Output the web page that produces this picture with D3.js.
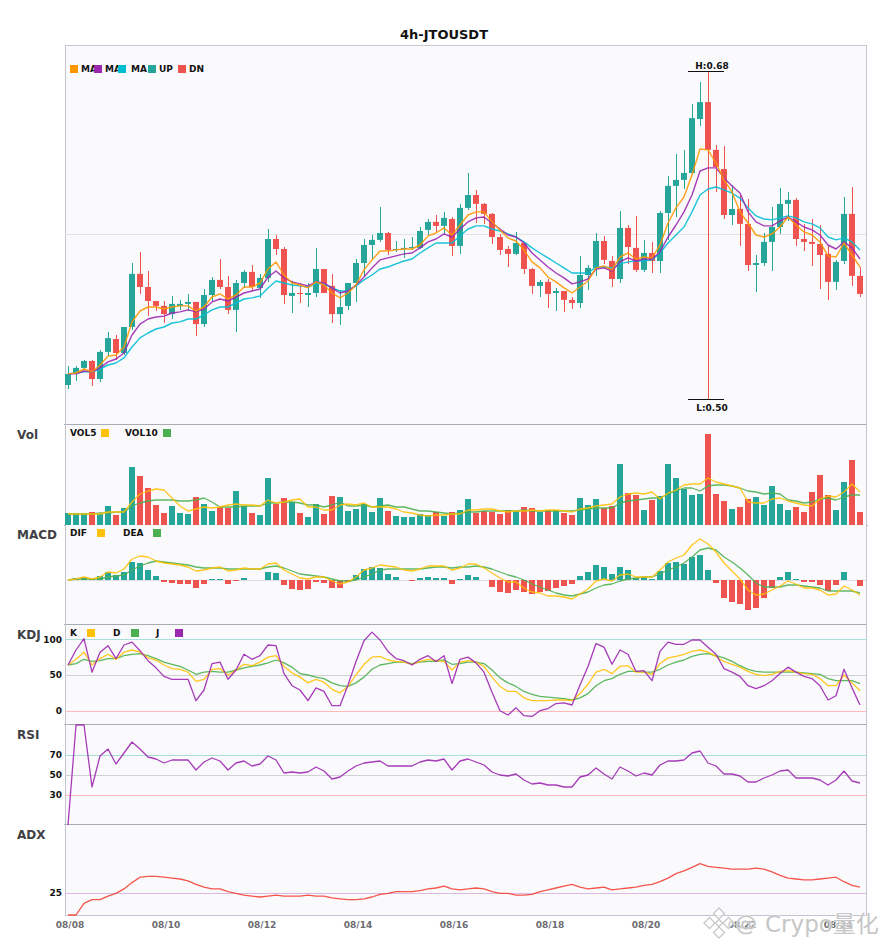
<!DOCTYPE html>
<html>
<head>
<meta charset="utf-8">
<script src="https://cdn.jsdelivr.net/npm/d3@7"></script>
<style>
  html, body { margin: 0; padding: 0; background: #fff; }
  svg { display: block; font-family: "DejaVu Sans", sans-serif; }
</style>
</head>
<body>
<div id="chart"></div>
<script>
const title = '4h-JTOUSDT'
const tickLabels = ['08/08', '08/10', '08/12', '08/14', '08/16', '08/18', '08/20', '08/22', '08/24']
const tickIndex = [0, 12, 24, 36, 48, 60, 72, 84, 96]

const open = [.5077,.5138,.5171,.5209,.5110,.5259,.5330,.5253,.5396,.5688,.5616,.5539,.5512,.5467,.5512,.5523,.5534,.5412,.5572,.5655,
  .5616,.5490,.5638,.5699,.5611,.5666,.5880,.5825,.5567,.5583,.5572,.5583,.5715,.5622,.5467,.5512,.5638,.5748,.5847,.5875,
  .5913,.5820,.5825,.5831,.5831,.5930,.5974,.5952,.5990,.5842,.6051,.6122,.6073,.6018,.5891,.5825,.5798,.5858,.5715,.5622,
  .5644,.5583,.5594,.5545,.5528,.5682,.5721,.5869,.5759,.5660,.5941,.5831,.5710,.5803,.5759,.6023,.6172,.6205,.6243,.6540,
  .6633,.6370,.6265,.6012,.6045,.5963,.5737,.5748,.5864,.5946,.6073,.6095,.5880,.5864,.5853,.5798,.5644,.5759,.6018,.5677]
const close = [.5138,.5171,.5209,.5110,.5259,.5335,.5253,.5396,.5688,.5616,.5539,.5512,.5467,.5523,.5523,.5534,.5412,.5572,.5655,.5616,
  .5490,.5638,.5699,.5616,.5666,.5880,.5825,.5572,.5583,.5578,.5583,.5715,.5583,.5467,.5506,.5638,.5748,.5847,.5875,.5913,
  .5820,.5825,.5831,.5836,.5924,.5974,.5952,.5996,.5842,.6051,.6122,.6073,.6018,.5891,.5820,.5798,.5858,.5715,.5622,.5644,
  .5578,.5594,.5545,.5528,.5682,.5721,.5869,.5765,.5660,.5941,.5836,.5710,.5803,.5759,.6023,.6172,.6205,.6243,.6545,.6633,
  .6370,.6276,.6012,.6045,.5963,.5737,.5748,.5864,.5946,.6073,.6095,.5880,.5864,.5853,.5792,.5644,.5754,.6018,.5677,.5578]
const high = [.5182,.5182,.5215,.5215,.5270,.5368,.5352,.5396,.5748,.5809,.5704,.5539,.5539,.5567,.5545,.5578,.5534,.5605,.5671,.5770,
  .5677,.5655,.5710,.5737,.5688,.5935,.5902,.5836,.5649,.5638,.5638,.5831,.5715,.5688,.5600,.5638,.5770,.5880,.5902,.6056,
  .5919,.5869,.5880,.5891,.5946,.5990,.6012,.6029,.6001,.6073,.6243,.6150,.6078,.6023,.5908,.5842,.5919,.5858,.5721,.5655,
  .5660,.5611,.5594,.5561,.5787,.5737,.5913,.5897,.5787,.6034,.5957,.6007,.5875,.5864,.6034,.6226,.6348,.6370,.6622,.6744,
  .6804,.6397,.6392,.6177,.6122,.6100,.5792,.5913,.6056,.6161,.6139,.6105,.5963,.5990,.5957,.5847,.5765,.6111,.6166,.5726]
const low = [.5055,.5099,.5160,.5072,.5094,.5236,.5215,.5242,.5380,.5578,.5456,.5484,.5418,.5440,.5490,.5484,.5346,.5396,.5534,.5605,
  .5467,.5368,.5611,.5594,.5556,.5644,.5792,.5523,.5473,.5528,.5506,.5561,.5583,.5418,.5407,.5490,.5534,.5677,.5770,.5864,
  .5792,.5809,.5776,.5820,.5825,.5902,.5919,.5908,.5787,.5798,.6040,.5968,.5963,.5853,.5792,.5726,.5792,.5688,.5578,.5561,
  .5501,.5484,.5479,.5495,.5501,.5600,.5677,.5743,.5616,.5638,.5743,.5699,.5699,.5693,.5693,.5875,.6001,.6155,.6232,.6502,
  .5000,.6139,.5990,.5957,.5842,.5704,.5589,.5732,.5704,.5908,.5979,.5842,.5814,.5732,.5605,.5545,.5600,.5743,.5622,.5561]

const ma5 = [.5138,.5143,.5165,.5149,.5187,.5236,.5242,.5286,.5424,.5484,.5506,.5506,.5495,.5506,.5512,.5512,.5484,.5506,.5561,.5578,
  .5550,.5572,.5616,.5616,.5638,.5715,.5754,.5682,.5638,.5627,.5611,.5644,.5627,.5583,.5556,.5583,.5627,.5710,.5765,.5814,
  .5814,.5820,.5825,.5825,.5847,.5897,.5913,.5941,.5902,.5957,.6012,.6029,.6029,.5974,.5930,.5886,.5869,.5820,.5754,.5721,
  .5671,.5644,.5611,.5583,.5616,.5649,.5721,.5732,.5710,.5781,.5803,.5770,.5781,.5776,.5847,.5968,.6051,.6111,.6232,.6375,
  .6370,.6298,.6205,.6139,.6029,.5968,.5902,.5891,.5908,.5946,.6001,.5957,.5919,.5902,.5864,.5787,.5781,.5858,.5792,.5726]
const ma10 = [.5138,.5138,.5154,.5149,.5171,.5204,.5220,.5253,.5352,.5412,.5440,.5451,.5456,.5473,.5479,.5490,.5479,.5495,.5534,.5550,
  .5539,.5561,.5583,.5594,.5605,.5671,.5704,.5666,.5644,.5633,.5622,.5644,.5638,.5611,.5583,.5594,.5627,.5671,.5721,.5765,
  .5776,.5787,.5798,.5803,.5831,.5864,.5880,.5908,.5891,.5935,.5974,.5996,.6001,.5968,.5935,.5902,.5891,.5858,.5803,.5765,
  .5726,.5693,.5666,.5633,.5644,.5660,.5715,.5721,.5704,.5754,.5776,.5759,.5770,.5770,.5809,.5891,.5957,.6029,.6122,.6254,
  .6271,.6271,.6216,.6172,.6133,.6029,.5974,.5952,.5952,.5979,.6001,.5974,.5946,.5930,.5902,.5847,.5825,.5864,.5831,.5770]
const ma20 = [.5138,.5143,.5149,.5149,.5165,.5187,.5198,.5226,.5286,.5336,.5363,.5385,.5396,.5418,.5424,.5440,.5440,.5462,.5490,.5506,
  .5506,.5528,.5550,.5556,.5567,.5611,.5649,.5638,.5627,.5622,.5616,.5633,.5633,.5611,.5594,.5594,.5622,.5655,.5682,.5715,
  .5726,.5743,.5759,.5770,.5803,.5831,.5858,.5858,.5858,.5897,.5935,.5952,.5952,.5935,.5924,.5908,.5891,.5864,.5831,.5803,
  .5776,.5748,.5721,.5693,.5693,.5693,.5726,.5726,.5721,.5743,.5754,.5759,.5759,.5765,.5803,.5858,.5902,.5946,.6029,.6122,
  .6155,.6166,.6150,.6133,.6105,.6051,.6007,.5990,.5985,.5996,.6007,.5996,.5974,.5963,.5941,.5891,.5875,.5886,.5864,.5820]

const vol = [12,12,12,13,11,19,10,17,58,49,37,20,12,19,12,11,28,21,14,18,17,34,19,12,10,47,21,27,23,12,8,21,11,29,28,14,16,21,13,27,
  14,9,8,8,11,10,13,9,13,15,26,12,14,13,11,15,14,18,17,13,15,15,12,10,27,20,26,17,19,61,32,30,15,25,29,61,47,36,30,31,
  91,31,24,16,18,26,28,20,39,21,15,18,13,33,50,30,15,43,65,13]
const vol5 = [11,11,11,11,11,13,13,13,23,31,34,36,35,27,19,14,16,18,17,18,20,21,20,20,19,25,22,23,25,26,18,18,15,15,20,21,20,22,18,18,
  18,16,13,12,10,9,10,10,11,11,15,15,16,16,14,13,14,14,15,14,15,15,14,13,16,17,19,20,21,28,31,32,31,33,26,32,35,40,41,41,
  47,43,41,39,37,23,22,22,26,27,24,22,20,19,26,29,28,33,41,33]
const vol10 = [11,11,11,11,12,12,13,13,19,22,24,25,25,25,24,24,25,27,23,18,18,18,19,19,19,22,22,23,23,22,20,20,18,20,23,19,19,20,18,19,
  20,18,18,16,14,14,13,12,11,12,13,13,14,14,14,14,14,15,14,14,14,14,14,14,15,16,17,17,17,22,24,25,26,27,27,31,34,37,37,34,
  39,40,40,39,37,34,33,31,32,31,25,24,22,23,26,27,25,28,30,30]

const macd = [0,2,3,1,4,8,5,8,18,17,10,4,-2,-3,-4,-4,-8,-4,1,1,-4,-1,2,0,0,8,7,-5,-9,-10,-9,-2,-3,-8,-8,-2,5,11,13,12,
  6,3,0,-1,2,3,2,2,-4,1,5,3,0,-7,-12,-13,-10,-12,-14,-12,-11,-8,-6,-4,4,8,15,13,6,13,10,2,3,1,9,17,18,16,23,25,
  10,-3,-18,-22,-24,-30,-28,-18,-8,3,8,1,-2,-2,-5,-11,-5,8,0,-6]
const dif = [0,1,3,1,3,8,7,11,21,24,23,19,17,16,15,13,9,10,12,13,9,10,12,11,11,16,17,10,6,2,1,3,3,-1,-4,-2,3,10,12,15,
  14,13,10,9,11,14,14,14,10,12,16,16,12,7,2,-2,-2,-8,-12,-13,-16,-16,-17,-19,-14,-9,-1,1,-1,5,6,3,3,3,10,18,22,25,35,41,
  36,28,17,9,1,-10,-15,-14,-10,-6,-1,-4,-8,-8,-10,-15,-14,-6,-10,-15]
const dea = [0,1,1,1,1,3,4,5,10,14,17,19,18,17,16,15,13,12,12,12,11,11,11,11,11,13,14,12,9,6,5,4,3,1,-1,-1,0,3,6,10,
  11,11,11,11,11,12,13,13,12,13,13,14,13,11,8,5,3,0,-4,-7,-10,-13,-15,-16,-14,-12,-8,-5,-4,-1,1,2,3,3,6,10,13,17,23,30,
  32,30,23,18,12,5,-3,-7,-7,-7,-5,-5,-6,-7,-8,-11,-11,-11,-11,-13]

const kLine = [64,72,82,64,73,79,72,82,85,82,74,71,64,59,58,54,41,44,58,59,50,57,65,63,68,75,77,62,53,47,39,44,40,30,25,34,50,65,75,76,
  71,69,68,65,69,72,70,69,57,68,70,68,62,47,34,27,27,18,14,14,14,15,15,14,24,37,54,58,52,62,63,54,54,51,66,74,76,79,83,85,
  82,76,69,65,61,55,51,49,51,55,56,54,52,51,45,35,35,50,39,28]
const dLine = [64,66,72,69,70,73,73,77,79,80,77,73,68,65,62,57,51,54,55,54,54,57,60,62,64,67,71,67,61,52,50,47,45,39,35,34,39,47,58,64,
  66,68,68,66,68,69,69,71,65,66,68,68,66,57,46,39,34,27,23,20,19,18,17,15,18,24,35,42,45,51,55,55,54,54,58,64,68,71,76,79,
  80,77,74,69,63,58,55,54,54,54,54,54,53,52,51,45,42,42,42,38]
const jLine = [64,85,101,54,82,91,73,92,96,84,70,60,48,44,44,44,14,29,66,68,44,57,79,72,77,92,91,52,35,29,14,32,27,7,7,36,69,98,110,99,
  83,73,70,64,72,77,69,77,38,72,75,67,54,26,0,-6,4,-7,-8,0,3,10,11,8,36,62,94,89,65,85,79,55,56,42,83,96,93,93,99,99,
  89,79,59,54,48,35,31,35,42,52,61,54,48,45,35,15,21,58,32,8]

const rsi = [0,100,100,38,69,76,61,72,83,76,68,66,62,65,65,65,55,63,67,64,55,62,64,59,61,69,65,52,53,52,53,58,54,46,48,54,59,62,63,64,
  59,59,59,59,63,65,64,66,55,64,66,63,60,53,50,49,51,45,41,42,40,40,38,38,48,50,57,51,46,58,54,49,52,50,60,64,64,65,72,74,
  62,59,51,51,49,43,43,47,50,54,55,47,47,47,45,40,45,54,44,42]
const adx = [0,0,13,17,17,21,24,29,36,42,43,43,42,41,40,38,34,31,29,29,26,24,22,21,20,21,22,21,21,21,22,21,21,19,18,17,17,18,20,23,
  24,26,26,26,27,29,30,32,29,28,29,30,29,26,24,24,22,22,23,26,28,30,32,34,31,29,30,31,28,29,30,31,33,34,37,41,46,49,53,57,
  54,53,52,51,51,51,52,51,48,44,41,40,39,39,40,41,42,37,33,31]

const upColor = '#26a69a'
const dnColor = '#ef5350'
const yellow = '#ffc107'
const green = '#4caf50'
const purple = '#9c27b0'
const left = 65
const right = 866
const w = 885
const h = 950

let index = d3.range(open.length)
let x = d3.scaleBand().domain(index).range([64, 864])
let cx = i => x(i) + x.bandwidth() / 2
let barW = 6

let yPrice = d3.scaleLinear().domain([0.4857, 0.6947]).range([425, 45])
let yVol = d3.scaleLinear().domain([0, 100]).range([525, 425])
let yMacd = d3.scaleLinear().domain([-45, 55]).range([625, 525])
let yKdj = d3.scaleLinear().domain([-20, 120]).range([725, 625])
let yRsi = d3.scaleLinear().domain([0, 100]).range([825, 725])
let yAdx = d3.scaleLinear().domain([0, 100]).range([915, 825])

let svg = d3.select('#chart').append('svg')
  .attr('width', w)
  .attr('height', h)

svg.append('text')
  .text(title)
  .attr('x', 444)
  .attr('y', 39)
  .attr('text-anchor', 'middle')
  .attr('font-size', '13px')
  .attr('font-weight', 'bold')
  .attr('fill', '#111')

// panel backgrounds and frame lines
let panels = [
  { name: 'Vol', top: 425 },
  { name: 'MACD', top: 525 },
  { name: 'KDJ', top: 625 },
  { name: 'RSI', top: 725 },
  { name: 'ADX', top: 825 }
]

svg.append('rect')
  .attr('x', left)
  .attr('y', 45)
  .attr('width', right - left)
  .attr('height', 870)
  .attr('fill', '#fafafd')

svg.append('line')
  .attr('x1', left).attr('x2', right).attr('y1', 45.5).attr('y2', 45.5)
  .attr('stroke', '#c9c9d3')
svg.selectAll('.panel-top').data(panels.filter(d => d.top !== 525)).enter().append('line')
  .attr('x1', left - 1)
  .attr('x2', right + 1)
  .attr('y1', d => d.top - 0.5)
  .attr('y2', d => d.top - 0.5)
  .attr('stroke', '#ababb3')
svg.append('line')
  .attr('x1', left).attr('x2', right).attr('y1', 915.5).attr('y2', 915.5)
  .attr('stroke', '#c9c0d6')
svg.append('line')
  .attr('x1', left + 0.5).attr('x2', left + 0.5).attr('y1', 45).attr('y2', 916)
  .attr('stroke', '#c4c4cc')
svg.append('line')
  .attr('x1', right + 0.5).attr('x2', right + 0.5).attr('y1', 45).attr('y2', 916)
  .attr('stroke', '#c4c4cc')
// notches where the volume and macd panels meet
svg.selectAll('.notch').data([left - 1, right + 1]).enter().append('line')
  .attr('x1', d => d)
  .attr('x2', d => d + 1)
  .attr('y1', 525.5)
  .attr('y2', 525.5)
  .attr('stroke', '#ababb3')

svg.selectAll('.panel-label').data(panels).enter().append('text')
  .text(d => d.name)
  .attr('x', 17)
  .attr('y', d => d.top + 14)
  .attr('font-size', '12px')
  .attr('font-weight', 'bold')
  .attr('fill', '#3f3f46')

function hLine (scale, value, color) {
  svg.append('line')
    .attr('x1', left)
    .attr('x2', right)
    .attr('y1', Math.round(scale(value)) + 0.5)
    .attr('y2', Math.round(scale(value)) + 0.5)
    .attr('stroke', color)
}

function yTicks (scale, values) {
  let g = svg.append('g')
    .attr('transform', 'translate(' + (left - 1) + ',0)')
    .call(d3.axisLeft(scale).tickValues(values).tickSize(0).tickPadding(2))
  g.select('.domain').remove()
  g.selectAll('text')
    .attr('font-family', '"DejaVu Sans", sans-serif')
    .attr('font-size', '9px')
    .attr('font-weight', 'bold')
    .attr('fill', '#111')
}

function drawLine (scale, values, color, width) {
  let line = d3.line().x((d, i) => cx(i)).y(d => scale(d))
  svg.append('path')
    .datum(values)
    .attr('d', line)
    .attr('fill', 'none')
    .attr('stroke', color)
    .attr('stroke-width', width)
    .attr('stroke-opacity', 0.9)
    .attr('stroke-linejoin', 'round')
}

function legend (items, y) {
  items.forEach(d => {
    svg.append('text')
      .text(d.text)
      .attr('x', d.textX)
      .attr('y', y + 7)
      .attr('font-size', '9px')
      .attr('font-weight', 'bold')
      .attr('fill', '#111')
    svg.append('rect')
      .attr('x', d.boxX)
      .attr('y', y)
      .attr('width', 8)
      .attr('height', 8)
      .attr('fill', d.color)
  })
}

// main panel
hLine(yPrice, 0.5908, '#e2e2e6')

let candles = svg.append('g').selectAll('g').data(index).enter().append('g')
candles.append('line')
  .attr('x1', i => cx(i))
  .attr('x2', i => cx(i))
  .attr('y1', i => yPrice(high[i]))
  .attr('y2', i => yPrice(low[i]))
  .attr('stroke', i => close[i] >= open[i] ? upColor : dnColor)
  .attr('stroke-width', 1)
  .attr('shape-rendering', 'crispEdges')
candles.append('rect')
  .attr('x', i => x(i) + 1)
  .attr('y', i => yPrice(Math.max(open[i], close[i])))
  .attr('width', barW)
  .attr('height', i => Math.max(1, Math.abs(yPrice(open[i]) - yPrice(close[i]))))
  .attr('fill', i => close[i] >= open[i] ? upColor : dnColor)

drawLine(yPrice, ma20, '#00bcd4', 1.4)
drawLine(yPrice, ma10, purple, 1.4)
drawLine(yPrice, ma5, '#ff9800', 1.4)

legend([
  { text: 'MA', textX: 81, boxX: 70, color: '#ff9800' },
  { text: 'MA', textX: 105, boxX: 94, color: purple },
  { text: 'MA', textX: 131, boxX: 118, color: '#00bcd4' },
  { text: 'UP', textX: 159, boxX: 148, color: upColor },
  { text: 'DN', textX: 189, boxX: 178, color: dnColor }
], 65)

// highest and lowest price marks
let hiIdx = d3.maxIndex(high)
let loIdx = d3.minIndex(low)
let marks = [
  { value: high[hiIdx], idx: hiIdx, text: 'H:', dy: -3 },
  { value: low[loIdx], idx: loIdx, text: 'L:', dy: 11 }
]
marks.forEach(d => {
  let yy = Math.round(yPrice(d.value)) + 0.5
  svg.append('line')
    .attr('x1', cx(d.idx) - 20)
    .attr('x2', cx(d.idx) + 16)
    .attr('y1', yy)
    .attr('y2', yy)
    .attr('stroke', '#111')
  svg.append('text')
    .text(d.text + d.value.toFixed(2))
    .attr('x', cx(d.idx) + 4)
    .attr('y', yy + d.dy)
    .attr('text-anchor', 'middle')
    .attr('font-size', '9px')
    .attr('font-weight', 'bold')
    .attr('fill', '#111')
})

// volume
svg.append('g').selectAll('rect').data(index).enter().append('rect')
  .attr('x', i => x(i) + 1)
  .attr('y', i => yVol(vol[i]))
  .attr('width', barW)
  .attr('height', i => yVol(0) - yVol(vol[i]))
  .attr('fill', i => close[i] >= open[i] ? upColor : dnColor)
drawLine(yVol, vol10, green, 1.3)
drawLine(yVol, vol5, yellow, 1.3)
legend([
  { text: 'VOL5', textX: 70, boxX: 101, color: yellow },
  { text: 'VOL10', textX: 125, boxX: 163, color: green }
], 429)

// macd
hLine(yMacd, 0, '#dddde2')
svg.append('g').selectAll('rect').data(index).enter().append('rect')
  .attr('x', i => x(i) + 1)
  .attr('y', i => Math.min(yMacd(macd[i]), yMacd(0)))
  .attr('width', barW)
  .attr('height', i => Math.abs(yMacd(macd[i]) - yMacd(0)))
  .attr('fill', i => macd[i] >= 0 ? upColor : dnColor)
drawLine(yMacd, dea, green, 1.3)
drawLine(yMacd, dif, yellow, 1.3)
legend([
  { text: 'DIF', textX: 70, boxX: 97, color: yellow },
  { text: 'DEA', textX: 123, boxX: 153, color: green }
], 529)

// kdj
hLine(yKdj, 100, '#a9ded8')
hLine(yKdj, 50, '#cfcfd4')
hLine(yKdj, 0, '#ffb9b9')
yTicks(yKdj, [0, 50, 100])
drawLine(yKdj, dLine, green, 1.3)
drawLine(yKdj, kLine, yellow, 1.3)
drawLine(yKdj, jLine, purple, 1.3)
legend([
  { text: 'K', textX: 70, boxX: 87, color: yellow },
  { text: 'D', textX: 113, boxX: 131, color: green },
  { text: 'J', textX: 156, boxX: 175, color: purple }
], 629)

// rsi
hLine(yRsi, 70, '#a9ded8')
hLine(yRsi, 50, '#cfcfd4')
hLine(yRsi, 30, '#ffb9b9')
yTicks(yRsi, [30, 50, 70])
drawLine(yRsi, rsi, purple, 1.3)

// adx
hLine(yAdx, 25, '#dcb8e4')
yTicks(yAdx, [25])
drawLine(yAdx, adx, '#f44336', 1.3)

// time axis
let axis = svg.append('g')
  .attr('transform', 'translate(2,916)')
  .call(d3.axisBottom(x).tickValues(tickIndex).tickFormat((d, i) => tickLabels[i]).tickSize(0).tickPadding(6))
axis.select('.domain').remove()
axis.selectAll('text')
  .attr('font-family', '"DejaVu Sans", sans-serif')
  .attr('font-size', '9px')
  .attr('font-weight', 'bold')
  .attr('fill', '#6b6b70')

// watermark
let mark = svg.append('g').attr('transform', 'translate(719,923)')
let rhombi = [[0, -9.5, 5.5], [-9.5, 0, 5.5], [9.5, 0, 5.5], [0, 9.5, 5.5], [0, 0, 3.5]]
mark.selectAll('path').data(rhombi).enter().append('path')
  .attr('d', d => 'M' + d[0] + ',' + (d[1] - d[2]) + 'L' + (d[0] + d[2]) + ',' + d[1] + 'L' + d[0] + ',' + (d[1] + d[2]) + 'L' + (d[0] - d[2]) + ',' + d[1] + 'Z')
  .attr('fill', 'rgba(255,255,255,0.7)')
  .attr('stroke', '#cacaca')
  .attr('stroke-width', 1.4)

svg.append('text')
  .text('@')
  .attr('x', 735)
  .attr('y', 931)
  .attr('font-size', '22px')
  .attr('fill', '#c6c6c6')
  .attr('stroke', 'rgba(255,255,255,0.6)')
  .attr('stroke-width', 1.5)
  .attr('paint-order', 'stroke')
svg.append('text')
  .text('Crypo量化')
  .attr('x', 765)
  .attr('y', 932)
  .attr('font-family', '"DejaVu Sans", "Noto Sans CJK SC", sans-serif')
  .attr('font-size', '23px')
  .attr('fill', '#c6c6c6')
  .attr('stroke', 'rgba(255,255,255,0.6)')
  .attr('stroke-width', 1.5)
  .attr('paint-order', 'stroke')
</script>
</body>
</html>
